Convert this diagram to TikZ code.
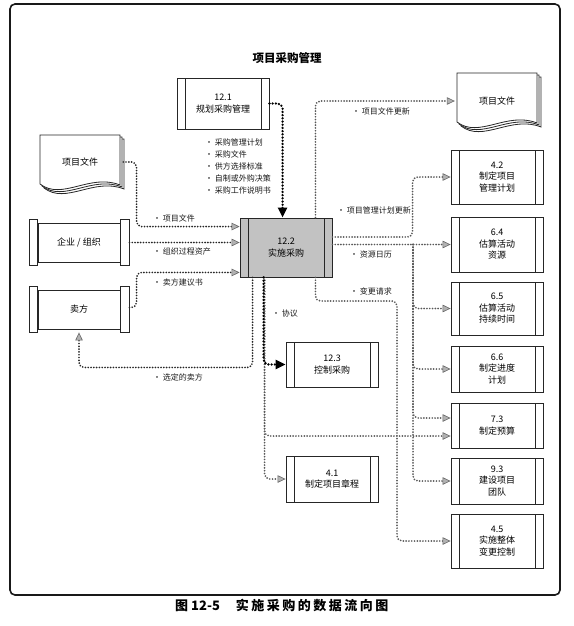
\documentclass[tikz,border=0pt]{standalone}
\usepackage{fontspec}
\setmainfont{Noto Sans CJK SC}
\usetikzlibrary{arrows.meta,calc}
\newcommand\docpage[2]{%
  \draw[black!85, line width=0.8pt, fill=white] (#1,#2) -- (#1,#2+49) .. controls (#1+22,#2+66) and (#1+50,#2+38) .. (#1+80,#2+50) -- (#1+80,#2) -- cycle;}
\newcommand\docstack[2]{\docpage{#1+4}{#2+4}\docpage{#1+2}{#2+2}\docpage{#1}{#2}}
\tikzset{
  gtip/.tip={Triangle[length=8pt,width=7.5pt,fill=black!30,color=black!60,line width=0.6pt]},
  btip/.tip={Triangle[length=10pt,width=9pt,fill=black,color=black]},
}
\begin{document}
\begin{tikzpicture}[x=1pt,y=-1pt,
  lbl/.style={font=\fontsize{8}{10}\selectfont, anchor=west, inner sep=0pt, text=black!90},
  procbox/.style={draw=black!85, line width=0.9pt, fill=white, align=center, inner sep=0pt,
     minimum width=92pt, font=\fontsize{9}{11.5}\selectfont,
     path picture={\draw[black!85,line width=0.7pt]
        ([xshift=8pt]path picture bounding box.north west) -- ([xshift=8pt]path picture bounding box.south west)
        ([xshift=-8pt]path picture bounding box.north east) -- ([xshift=-8pt]path picture bounding box.south east);}},
  scrollbox/.style={draw=black!85, line width=0.9pt, fill=white, inner sep=0pt,
     minimum width=82pt, minimum height=39pt, font=\fontsize{9}{11}\selectfont},
  capst/.style={draw=black!85, line width=0.9pt, fill=white},
  docnode/.style={inner sep=0pt, minimum width=80pt, font=\fontsize{9}{11}\selectfont},
  inln/.style={draw=black!85, line width=1.9pt, dash pattern=on 0pt off 2.8pt, line cap=round, rounded corners=5pt, -{gtip}},
  outln/.style={draw=black!65, line width=1.9pt, dash pattern=on 0pt off 2.8pt, line cap=round, rounded corners=5pt, -{gtip}},
  blkln/.style={draw=black, line width=2.6pt, dash pattern=on 0pt off 3.2pt, line cap=round, rounded corners=5pt, -{btip}},
]
\useasboundingbox (0,0) rectangle (573,626);
% frame
\draw[black!90, line width=1.6pt, rounded corners=5pt] (10,4) rectangle (560,595);
% title
\node[font=\bfseries\fontsize{11.5}{13}\selectfont] (title) at (287,58) {项目采购管理};
% documents
\docstack{40}{135}
\docstack{457}{73}
\node[docnode, minimum height=54pt] (docL) at (80,162) {项目文件};
\node[docnode, minimum height=56pt] (docR) at (497,101) {项目文件};
% scroll boxes
\node[scrollbox] (org) at (79,242.5) {企业 / 组织};
\node[scrollbox] (seller) at (79,309.5) {卖方};
\foreach \n in {org,seller}{
  \draw[capst] ($(\n.north west)+(-8,-3)$) rectangle ($(\n.south west)+(0,3)$);
  \draw[capst] ($(\n.north east)+(0,-3)$) rectangle ($(\n.south east)+(9,3)$);
}
% process boxes
\node[procbox, minimum height=51pt] (p121) at (223,103.5) {12.1\\规划采购管理};
\node[procbox, minimum height=59pt, fill=black!24] (p122) at (286,247.5) {12.2\\实施采购};
\node[procbox, minimum height=45pt] (p123) at (332,364.5) {12.3\\控制采购};
\node[procbox, minimum height=46pt] (p41) at (332,479) {4.1\\制定项目章程};
\node[procbox, minimum height=54pt] (p42) at (497,177) {4.2\\制定项目\\管理计划};
\node[procbox, minimum height=55pt] (p64) at (497,244.5) {6.4\\估算活动\\资源};
\node[procbox, minimum height=53pt] (p65) at (497,308.5) {6.5\\估算活动\\持续时间};
\node[procbox, minimum height=46pt] (p66) at (497,369) {6.6\\制定进度\\计划};
\node[procbox, minimum height=45pt] (p73) at (497,425.5) {7.3\\制定预算};
\node[procbox, minimum height=46pt] (p93) at (497,481) {9.3\\建设项目\\团队};
\node[procbox, minimum height=54pt] (p45) at (497,541) {4.5\\实施整体\\变更控制};
% bend coordinates
\coordinate (bx) at (413,244.5);
\coordinate (cx) at (397,301);
% inputs
\draw[inln] ($(docL.east)+(3,0)$) -| ($(p122.north west)+(-103,9)$) -- ($(p122.north west)+(0,9)$);
\draw[inln] ($(org.east)+(9,0)$) -- (p122.west |- org.east);
\draw[inln] ($(seller.east)+(9,-2)$) -| ($(p122.south west)+(-103,-5)$) -- ($(p122.south west)+(0,-5)$);
\draw[inln] ($(p122.south west)+(13,0)$) -- ($(p122.south west)+(13,90)$) -| ($(seller.south)+(0,3)$);
% outputs
\draw[outln] ($(p122.north east)+(-17,0)$) |- ($(docR.west)+(-2,0)$);
\draw[outln] ($(p122.east)+(0,-10.5)$) -| ($(p42.west)+(-38,0)$) -- (p42.west);
\draw[outln] (p122.east |- p64.west) -- (p64.west);
\draw[outln] (bx) |- (p65.west);
\draw[outln] (bx) |- (p66.west);
\draw[outln] (bx) |- ($(p73.west)+(0,-7.5)$);
\draw[outln] (bx) |- (p93.west);
\draw[outln] ($(p122.south east)+(-17,0)$) |- (cx) |- (p45.west);
\draw[outln] ($(p122.south west)+(25,0)$) |- ($(p73.west)+(0,10.5)$);
\draw[outln] ($(p122.south west)+(25,0)$) |- (p41.west);
% black flows
\draw[blkln] (p121.east) -| ($(p122.north west)+(43,0)$);
\draw[blkln] ($(p122.south west)+(24,0)$) |- (p123.west);
% labels
\node[lbl] (l1) at (153,218) {• 项目文件};
\node[lbl] (l2) at (153,251) {• 组织过程资产};
\node[lbl] (l3) at (153,282) {• 卖方建议书};
\node[lbl] (l4) at (153,377) {• 选定的卖方};
\node[lbl] (l5) at (272,313) {• 协议};
\node[lbl] (l6) at (352,111) {• 项目文件更新};
\node[lbl] (l7) at (337,210) {• 项目管理计划更新};
\node[lbl] (l8) at (350,254) {• 资源日历};
\node[lbl] (l9) at (350,291) {• 变更请求};
\node[lbl, anchor=north west, align=left, font=\fontsize{8}{12}\selectfont] (list) at (205,139)
  {• 采购管理计划\\• 采购文件\\• 供方选择标准\\• 自制或外购决策\\• 采购工作说明书};
% caption
\node[anchor=west, inner sep=0pt, font=\bfseries\fontsize{13}{15}\selectfont] (cap) at (175,605)
  {图\hspace{3pt}12-5\hspace{16pt}实\hspace{2.5pt}施\hspace{2.5pt}采\hspace{2.5pt}购\hspace{2.5pt}的\hspace{2.5pt}数\hspace{2.5pt}据\hspace{2.5pt}流\hspace{2.5pt}向\hspace{2.5pt}图};
\end{tikzpicture}
\end{document}
